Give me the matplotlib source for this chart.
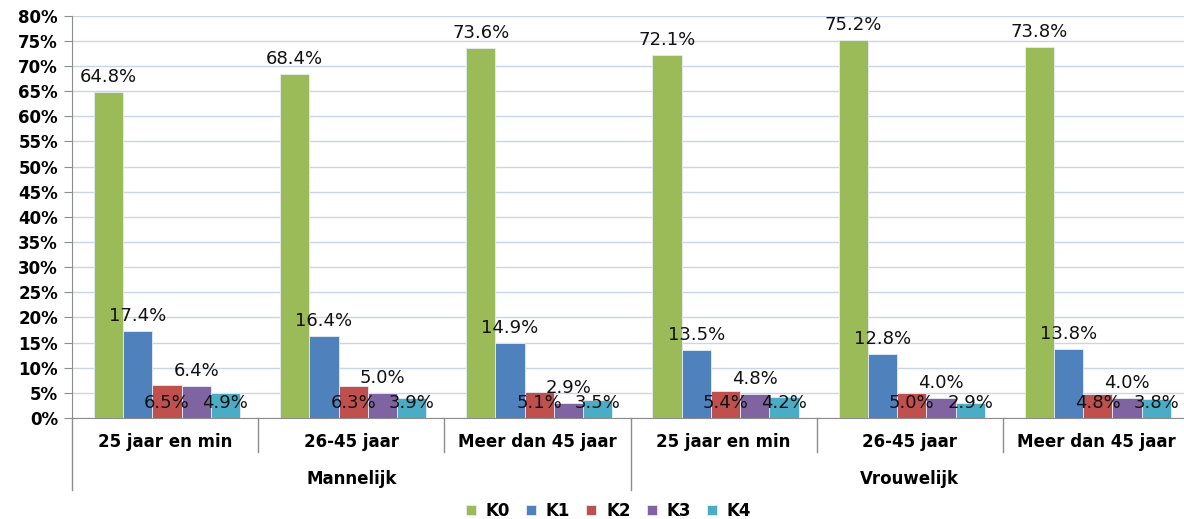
import matplotlib.pyplot as plt
import numpy as np

groups = ["Mannelijk", "Vrouwelijk"]
ages = ["25 jaar en min", "26-45 jaar", "Meer dan 45 jaar"]
series = ["K0", "K1", "K2", "K3", "K4"]
k0 = [64.8, 68.4, 73.6, 72.1, 75.2, 73.8]
k1 = [17.4, 16.4, 14.9, 13.5, 12.8, 13.8]
k2 = [6.5, 6.3, 5.1, 5.4, 5.0, 4.8]
k3 = [6.4, 5.0, 2.9, 4.8, 4.0, 4.0]
k4 = [4.9, 3.9, 3.5, 4.2, 2.9, 3.8]
colors = ["#9BBB59", "#4F81BD", "#C0504D", "#8064A2", "#4BACC6"]

values = [k0, k1, k2, k3, k4]
n = len(k0)
x = np.arange(n)
w = 0.157

fig = plt.figure(figsize=(11.84, 5.19), dpi=100)
ax = fig.add_axes([0.0608, 0.1946, 1.0043 - 0.0608, 0.775])

for i, (name, vals, c) in enumerate(zip(series, values, colors)):
    pos = x + (i - 2) * w + 0.01
    ax.bar(pos, vals, w, color=c, edgecolor="#E6ECF5", linewidth=0.6, label=name, zorder=3)
    for px, v in zip(pos, vals):
        # K2 and K4 labels sit at the base of the bar
        base = i in (2, 4)
        ax.annotate(f"{v:.1f}%", (px, 0 if base else v), xytext=(0, 7.2),
                    textcoords="offset points", ha="center", va="baseline",
                    fontsize=13, color="#111111", zorder=5)

ax.set_xlim(-0.5, n - 0.5)
ax.set_ylim(0, 80)
ax.set_yticks(np.arange(0, 81, 5))
ax.set_yticklabels([f"{t}%" for t in range(0, 81, 5)], fontsize=12, fontweight="bold")
ax.yaxis.grid(True, color="#C8D5EA", linewidth=1, zorder=0)
ax.set_xticks([])
for s in ["top", "right"]:
    ax.spines[s].set_visible(False)
ax.spines["left"].set_color("#8C8C8C")
ax.spines["bottom"].set_color("#8C8C8C")
ax.tick_params(axis="y", length=6, color="#8C8C8C", pad=4)

# multi-level category axis
trans = ax.get_xaxis_transform()
for j in range(n):
    ax.text(j, -0.06, ages[j % 3], transform=trans, ha="center", va="center",
            fontsize=12, fontweight="bold")
for j in range(n + 1):
    bottom = -0.18 if j % 3 == 0 else -0.085
    ax.plot([j - 0.5, j - 0.5], [0, bottom], transform=trans, color="#8C8C8C",
            linewidth=1, clip_on=False)
for g, name in enumerate(groups):
    ax.text(3 * g + 1, -0.152, name, transform=trans, ha="center", va="center",
            fontsize=12, fontweight="bold")

fig.legend(loc="center", bbox_to_anchor=(0.514, 0.016), ncol=5, frameon=False,
           prop={"size": 12, "weight": "bold"}, handlelength=0.6, handleheight=0.6,
           columnspacing=0.95, handletextpad=0.6)

fig.savefig("out.png", dpi=100)
